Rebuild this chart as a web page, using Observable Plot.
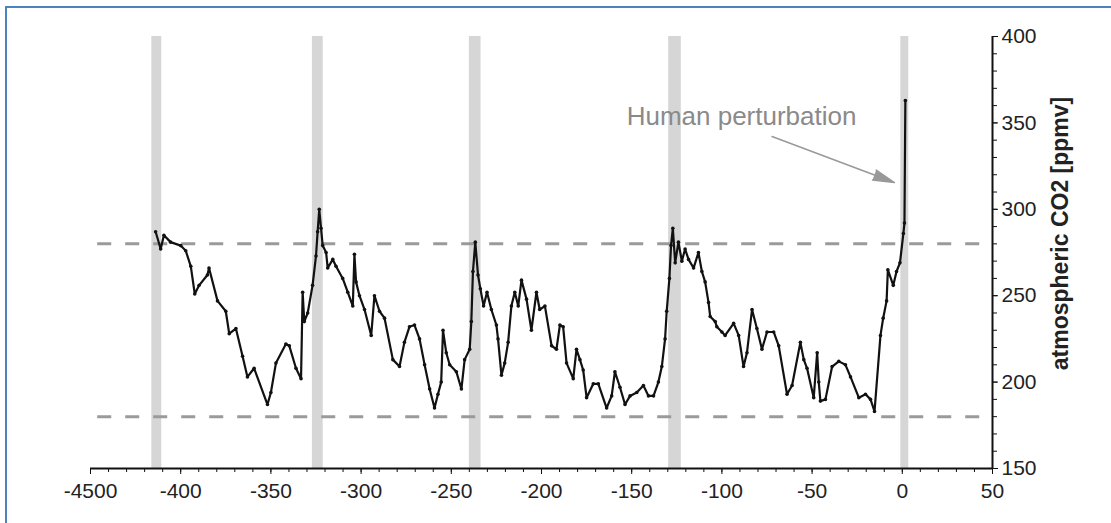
<!DOCTYPE html>
<html>
<head>
<meta charset="utf-8">
<script src="https://cdn.jsdelivr.net/npm/d3@7"></script>
<script src="https://cdn.jsdelivr.net/npm/@observablehq/plot@0.6"></script>
<style>
  html, body { margin: 0; padding: 0; background: #fff; overflow: hidden; }
  #wrap { position: relative; width: 1111px; height: 523px; overflow: hidden; }
  #frame { position: absolute; left: 5px; top: 6px; width: 1130px; height: 560px; border: 2px solid #4f81bd; box-sizing: border-box; pointer-events: none; }
  #chart { position: absolute; left: 0; top: 0; }
</style>
</head>
<body>
<div id="wrap"><div id="chart"></div><div id="frame"></div></div>
<script>
// Age (kyr before present) and atmospheric CO2 (ppmv)
const ageKyr = [
  -413.9, -411.1, -409.3, -405.6, -400, -397.2, -394.4, -392.2, -389.8, -385.2, -384.3, -379.6, -375, -373.1, -369.4, -365.7, -363, -359.3, -351.9, -350, -347.2,
  -341.7, -339.8, -336.1, -333.3, -332.4, -331.5, -329.6, -326.9, -325, -324.1, -323.2, -322.2, -321.3, -319.4, -318.5, -315.7, -313.9, -310.2, -307.4, -304.6, -303.7, -302.8, -300.9, -298.1, -294.4, -292.6, -289.8, -287, -282.4, -278.7, -276, -273.2,
  -270.4, -267.6, -264.8, -262, -259.3, -257.4, -255.6, -254.6, -252.8, -250.9, -247.2, -244.4, -242.6, -239.8, -238.9, -238, -236.7, -235.2, -233.9, -232.1, -230.2, -227.8, -225, -224.1, -222.2, -220.4, -218.5, -216.7, -214.8, -212.9, -211.1, -208.3, -205.6, -202.8,
  -201, -198.1, -194.4, -191.7, -189.8, -188, -186.1, -182.4, -180.6, -178.7, -176.9, -175, -171.3, -168.5, -163.9, -161.1, -159.3, -156.5, -153.7, -150.9, -147.2, -143.5, -140.7, -137.9, -135.2, -133.3, -131.5, -130.6, -129.1,
  -128.2, -127.2, -125.9, -124.1, -122.2, -120.4, -118.5, -115.7, -113, -111.1, -109.3, -107.4, -106.5, -103.7, -102.8, -100, -98.2, -93.5, -90.7, -88, -86.1, -83.3, -80.6, -77.8, -75, -71.3, -68.5, -63.9, -61.1, -56.5,
  -54.6, -52.8, -49.1, -47.2, -46.3, -45.4, -42.6, -38.9, -35.2, -31.5, -28.7, -24.1, -20.4, -17.6, -15.4, -12.1, -10.6, -8.7, -8, -5, -3.2, -1.3, 0.6, 1.2, 1.7
];
const co2 = [
  287, 277, 285, 281, 279, 276, 267, 251, 256, 262, 266, 247, 241, 228, 231, 215, 203, 208, 187, 194, 211,
  222, 221, 208, 202, 252, 235, 240, 256, 273, 287, 300, 289, 279, 275, 266, 271, 267, 260, 252, 244, 274, 258, 250, 242, 227, 250, 241, 237, 213, 209, 223, 232,
  233, 225, 210, 196, 185, 193, 200, 230, 217, 210, 206, 196, 213, 219, 235, 264, 281, 262, 254, 244, 252, 242, 233, 225, 204, 211, 223, 244, 252, 244, 259, 248, 230, 252,
  242, 244, 221, 219, 233, 232, 211, 202, 219, 213, 207, 191, 199, 199, 185, 192, 206, 197, 187, 192, 194, 198, 192, 192, 200, 209, 225, 241, 260,
  279, 289, 269, 281, 270, 277, 271, 266, 275, 264, 258, 246, 238, 235, 232, 229, 227, 234, 227, 209, 217, 242, 231, 219, 229, 229, 221, 193, 198, 223,
  213, 208, 191, 217, 200, 189, 190, 209, 212, 210, 203, 191, 193, 190, 183, 227, 237, 247, 265, 256, 264, 269, 286, 292, 363
];

// Glacial terminations (shaded bands), kyr
const bandStart = [-416, -327, -240, -129.5, -0.8];
const bandEnd   = [-410.5, -321, -233.5, -122.5, 3.6];

// Reference levels (dashed)
const refLevels = [280, 180];

// Axis ticks
const xTickValues = [-450, -400, -350, -300, -250, -200, -150, -100, -50, 0, 50];
const xTickLabels = ["-4500", "-400", "-350", "-300", "-250", "-200", "-150", "-100", "-50", "0", "50"];
const yTickValues = [150, 200, 250, 300, 350, 400];
const yTitle = "atmospheric CO2 [ppmv]";

// Annotation
const noteText = "Human perturbation";
const noteAt = [-152.8, 348.5];
const arrowFrom = [-72.2, 342.1];
const arrowTo = [-4.4, 315.5];
const titleAt = [87.5, 286];

const data = ageKyr.map((a, i) => ({age: a, co2: co2[i]}));
const bands = bandStart.map((s, i) => ({x1: s, x2: bandEnd[i]}));
const xLabel = new Map(xTickValues.map((v, i) => [v, xTickLabels[i]]));

const plot = Plot.plot({
  width: 1111,
  height: 523,
  marginLeft: 90,
  marginRight: 119,
  marginTop: 36,
  marginBottom: 55,
  x: {domain: [-450, 50]},
  y: {domain: [150, 400]},
  style: {fontFamily: "'Liberation Sans', Arial, Helvetica, sans-serif", fontSize: "21px", color: "#222", background: "transparent", overflow: "visible"},
  marks: [
    Plot.rect(bands, {x1: "x1", x2: "x2", y1: 150, y2: 400, fill: "#d6d6d6"}),
    Plot.ruleY(refLevels, {x1: -446, x2: 50, stroke: "#9a9a9a", strokeWidth: 3, strokeDasharray: "14,14"}),
    Plot.line(data, {x: "age", y: "co2", stroke: "#111", strokeWidth: 2.2}),
    Plot.dot(data, {x: "age", y: "co2", r: 1.8, fill: "#111"}),
    Plot.axisX({ticks: d3.range(-450, 51, 10), tickSize: 4, tickFormat: () => "", stroke: "#111"}),
    Plot.axisX({ticks: xTickValues, tickSize: 6, tickPadding: 9, tickFormat: d => xLabel.get(d), stroke: "#111", label: null}),
    Plot.axisY({anchor: "right", ticks: d3.range(150, 401, 10), tickSize: 4, tickFormat: () => "", stroke: "#111", label: null}),
    Plot.axisY({anchor: "right", ticks: yTickValues, tickSize: 5, tickPadding: 4, stroke: "#111", label: null, textAnchor: "start"}),
    Plot.ruleY([150], {x1: -450, x2: 50, stroke: "#111", strokeWidth: 2}),
    Plot.ruleX([50], {y1: 150, y2: 400, stroke: "#111", strokeWidth: 2}),
    Plot.text([noteText], {x: noteAt[0], y: noteAt[1], text: d => d, textAnchor: "start", lineAnchor: "bottom", fontSize: 26, fill: "#8a8a8a"}),
    Plot.arrow([0], {x1: arrowFrom[0], y1: arrowFrom[1], x2: arrowTo[0], y2: arrowTo[1], stroke: "#999", fill: "#999", strokeWidth: 1.5, headLength: 22, headAngle: 28}),
    Plot.text([yTitle], {x: titleAt[0], y: titleAt[1], text: d => d, rotate: -90, fontSize: 23, fontWeight: "bold", fill: "#222"})
  ]
});
document.getElementById("chart").appendChild(plot);
</script>
</body>
</html>
